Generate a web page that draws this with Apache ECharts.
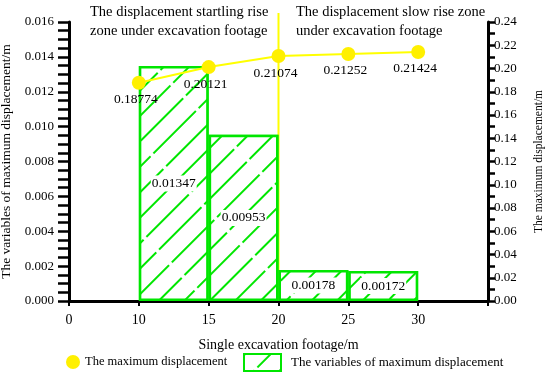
<!DOCTYPE html>
<html><head><meta charset="utf-8">
<script src="https://cdn.jsdelivr.net/npm/echarts@6/dist/echarts.min.js"></script>
<style>html,body{margin:0;padding:0;background:#fff}#c{width:550px;height:377px}</style>
</head><body><div id="c"></div>
<script>
const xCategories = ['0', '10', '15', '20', '25', '30', ''];
const barBins = ['0-10', '10-15', '15-20', '20-25', '25-30', '30-'];
const variableValues = [null, 0.01347, 0.00953, 0.00178, 0.00172, null];
const maxDisplacement = [null, 0.18774, 0.20121, 0.21074, 0.21252, 0.21424, null];
const zoneBoundary = '20';
const zoneLine = [0, 0.01652];
const leftTicks = [0, 0.016, 0.002];
const rightTicks = [0, 0.24, 0.02];
const zoneTextLeft = 'The displacement startling rise\nzone under excavation footage';
const zoneTextRight = 'The displacement slow rise zone\nunder excavation footage';

const GREEN = '#00e600', YELLOW = '#ffff00';
const serif = 'Liberation Serif';
const chart = echarts.init(document.getElementById('c'), null, {renderer: 'canvas'});
chart.setOption({
  animation: false,
  backgroundColor: '#fff',
  grid: {left: 69, right: 62, top: 22, bottom: 76, containLabel: false, outerBoundsMode: 'none'},
  title: [
    {text: zoneTextLeft, left: 90, top: 3, padding: 0, textStyle: {fontFamily: serif, fontSize: 14.5, fontWeight: 'normal', lineHeight: 19, color: '#000'}},
    {text: zoneTextRight, left: 296, top: 3, padding: 0, textStyle: {fontFamily: serif, fontSize: 14.5, fontWeight: 'normal', lineHeight: 19, color: '#000'}}
  ],
  legend: [
    {data: [{name: 'The maximum displacement', icon: 'circle'}], left: 66, top: 355, padding: 0, itemWidth: 14, itemHeight: 14,
     textStyle: {fontFamily: serif, fontSize: 12.5, color: '#000'}},
    {data: [{name: 'The variables of maximum displacement', icon: 'rect'}], left: 243, top: 353, padding: 0, itemWidth: 37, itemHeight: 17,
     textStyle: {fontFamily: serif, fontSize: 13, color: '#000', padding: [0, 0, 0, 5]}}
  ],
  xAxis: [
    {type: 'category', data: xCategories, boundaryGap: false, position: 'bottom',
     name: 'Single excavation footage/m', nameLocation: 'middle', nameGap: 37,
     nameTextStyle: {fontFamily: serif, fontSize: 14, color: '#000'},
     axisLine: {lineStyle: {color: '#000', width: 3}},
     axisTick: {show: true, length: 5, lineStyle: {color: '#000', width: 2}, alignWithLabel: true},
     axisLabel: {fontFamily: serif, fontSize: 14, color: '#000', margin: 12, interval: 0},
     splitLine: {show: false}},
    {type: 'category', data: barBins, boundaryGap: true, show: false, position: 'bottom'}
  ],
  yAxis: [
    {type: 'value', min: leftTicks[0], max: leftTicks[1], interval: leftTicks[2], position: 'left',
     name: 'The variables of maximum displacement/m', nameLocation: 'middle', nameGap: 54, nameRotate: 90,
     nameTextStyle: {fontFamily: serif, fontSize: 13.5, color: '#000'},
     axisLine: {show: true, lineStyle: {color: '#000', width: 3}},
     axisTick: {show: true, inside: false, length: 11, lineStyle: {color: '#000', width: 2.5}},
     minorTick: {show: true, splitNumber: 4, length: 11, lineStyle: {color: '#000', width: 2.5}},
     axisLabel: {fontFamily: serif, fontSize: 13, color: '#000', margin: 15, formatter: v => v.toFixed(3)},
     splitLine: {show: false}},
    {type: 'value', min: rightTicks[0], max: rightTicks[1], interval: rightTicks[2], position: 'right',
     name: 'The maximum displacement/m', nameLocation: 'middle', nameGap: 45, nameRotate: 90,
     nameTextStyle: {fontFamily: serif, fontSize: 11.5, color: '#000'},
     axisLine: {show: true, lineStyle: {color: '#000', width: 3}},
     axisTick: {show: true, inside: false, length: 7, lineStyle: {color: '#000', width: 2.5}},
     minorTick: {show: true, splitNumber: 2, length: 7, lineStyle: {color: '#000', width: 2.5}},
     axisLabel: {fontFamily: serif, fontSize: 13, color: '#000', margin: 6, formatter: v => v.toFixed(2)},
     splitLine: {show: false}}
  ],
  series: [
    {name: 'The variables of maximum displacement', type: 'bar', xAxisIndex: 1, yAxisIndex: 0,
     data: variableValues, barWidth: '100%', barGap: '0%',
     itemStyle: {color: '#fff', borderColor: GREEN, borderWidth: 2.5,
       decal: {symbol: 'rect', symbolSize: 1, color: GREEN, backgroundColor: '#fff',
               dashArrayX: [[60, 4]], dashArrayY: [1.8, 15.2], rotation: -Math.PI / 4}},
     label: {show: true, position: 'inside', fontFamily: serif, fontSize: 13.5, color: '#000',
             backgroundColor: '#fff', padding: [1, 1], formatter: p => p.value.toFixed(5)}},
    {name: 'The maximum displacement', type: 'line', xAxisIndex: 0, yAxisIndex: 1,
     data: maxDisplacement, symbol: 'circle', symbolSize: 14, connectNulls: false,
     lineStyle: {color: YELLOW, width: 2}, itemStyle: {color: '#fff000'},
     label: {show: true, position: 'bottom', distance: 3, offset: [-3, 0], fontFamily: serif, fontSize: 13.5, color: '#000',
             formatter: p => p.value.toFixed(5)}},
    {name: 'zone', type: 'line', xAxisIndex: 0, yAxisIndex: 0, clip: false, symbol: 'none', silent: true,
     data: zoneLine.map(v => [zoneBoundary, v]), lineStyle: {color: YELLOW, width: 2}, z: 1}
  ]
});
</script></body></html>
